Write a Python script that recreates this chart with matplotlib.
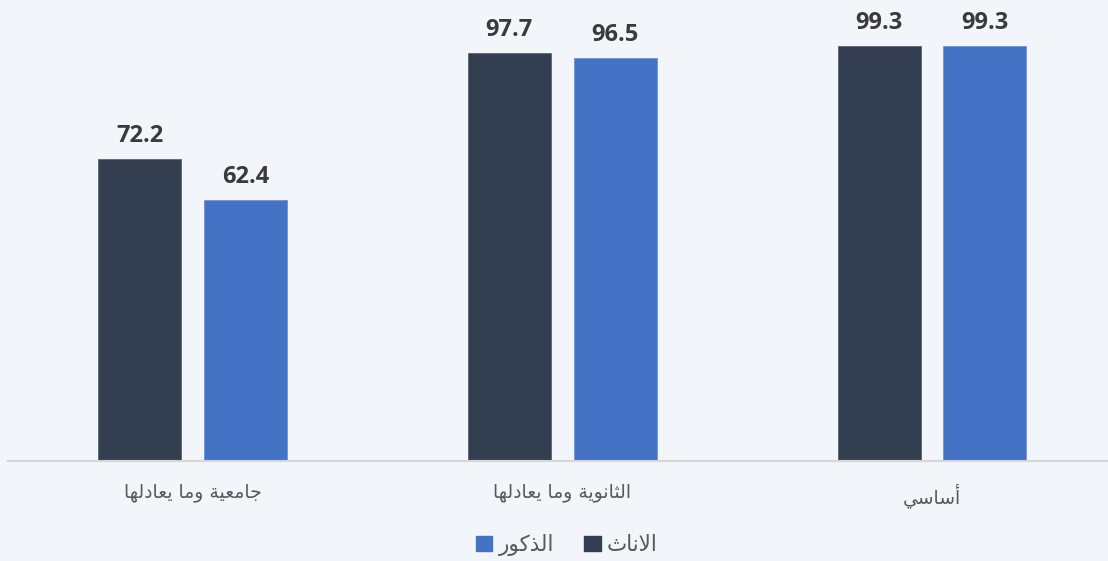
import matplotlib
matplotlib.use("Agg")
import matplotlib.pyplot as plt
import numpy as np
from matplotlib.patches import Patch

# data (right-to-left chart, read as drawn from left to right)
categories = ["جامعية وما يعادلها", "الثانوية وما يعادلها", "أساسي"]
females = [72.2, 97.7, 99.3]
males = [62.4, 96.5, 99.3]
series_names = ["الاناث", "الذكور"]

DARK = "#333f50"
BLUE = "#4472c4"
BG = "#f2f5f9"

# minimal arabic shaping: logical text -> presentation forms in visual order
FORMS = {
    "ا": (0xFE8D, 0xFE8E), "أ": (0xFE83, 0xFE84), "د": (0xFEA9, 0xFEAA),
    "ذ": (0xFEAB, 0xFEAC), "ر": (0xFEAD, 0xFEAE), "و": (0xFEED, 0xFEEE),
    "ة": (0xFE93, 0xFE94),
    "ث": (0xFE99, 0xFE9A, 0xFE9B, 0xFE9C), "ج": (0xFE9D, 0xFE9E, 0xFE9F, 0xFEA0),
    "س": (0xFEB1, 0xFEB2, 0xFEB3, 0xFEB4), "ع": (0xFEC9, 0xFECA, 0xFECB, 0xFECC),
    "ك": (0xFED9, 0xFEDA, 0xFEDB, 0xFEDC), "ل": (0xFEDD, 0xFEDE, 0xFEDF, 0xFEE0),
    "م": (0xFEE1, 0xFEE2, 0xFEE3, 0xFEE4), "ن": (0xFEE5, 0xFEE6, 0xFEE7, 0xFEE8),
    "ه": (0xFEE9, 0xFEEA, 0xFEEB, 0xFEEC), "ي": (0xFEF1, 0xFEF2, 0xFEF3, 0xFEF4),
}
LAM_ALEF = {"ا": (0xFEFB, 0xFEFC), "أ": (0xFEF7, 0xFEF8)}


def shape(text):
    out = []
    for word in text.split(" "):
        letters = []
        i = 0
        while i < len(word):
            if word[i] == "ل" and i + 1 < len(word) and word[i + 1] in LAM_ALEF:
                letters.append(("LA", word[i + 1]))
                i += 2
            else:
                letters.append((word[i], None))
                i += 1
        res = ""
        for k, (ch, extra) in enumerate(letters):
            prev_joins = k > 0 and letters[k - 1][0] != "LA" and len(FORMS[letters[k - 1][0]]) == 4
            if ch == "LA":
                f = LAM_ALEF[extra]
                res += chr(f[1] if prev_joins else f[0])
                continue
            f = FORMS[ch]
            next_exists = k + 1 < len(letters)
            if len(f) == 2:
                res += chr(f[1] if prev_joins else f[0])
            else:
                if prev_joins and next_exists:
                    res += chr(f[3])
                elif prev_joins:
                    res += chr(f[1])
                elif next_exists:
                    res += chr(f[2])
                else:
                    res += chr(f[0])
        out.append(res)
    return " ".join(out)[::-1]


fig = plt.figure(figsize=(11.08, 5.61), dpi=100)
fig.patch.set_facecolor(BG)
ax = fig.add_axes([8 / 1108, 100 / 561, 1100 / 1108, 461 / 561])
ax.set_facecolor(BG)

x = np.arange(len(categories))
w = 0.2245
off = 0.1433
b1 = ax.bar(x - off, females, w, color=DARK, edgecolor="#5a6473", linewidth=0.6)
b2 = ax.bar(x + off, males, w, color=BLUE, edgecolor="#6f93d6", linewidth=0.6)

for bars in (b1, b2):
    for r in bars:
        ax.annotate(f"{r.get_height():.1f}", (r.get_x() + r.get_width() / 2, r.get_height()),
                    xytext=(0, 8), textcoords="offset points", ha="center", va="bottom",
                    fontsize=17, fontweight="bold", color="#3a3a3a", family="Open Sans")

ax.set_xlim(-0.499, 2.476)
ax.set_ylim(0, 110.3)
ax.set_yticks([])
ax.set_xticks(x)
ax.set_xticklabels([shape(c) for c in categories], fontsize=13.5, color="#595959",
                   family="DejaVu Sans")
ax.tick_params(axis="x", length=0, pad=16)
for s in ("top", "left", "right"):
    ax.spines[s].set_visible(False)
ax.spines["bottom"].set_color("#d6d6d6")
ax.spines["bottom"].set_linewidth(1.5)

handles = [Patch(color=BLUE, label=shape(series_names[1])),
           Patch(color=DARK, label=shape(series_names[0]))]
fig.legend(handles=handles, loc="center", bbox_to_anchor=(567 / 1108, 1 - 545 / 561), ncol=2,
           frameon=False, handlelength=0.75, handleheight=0.75,
           handletextpad=0.3, columnspacing=1.4, labelcolor="#595959",
           prop={"family": "DejaVu Sans", "size": 15.5})

fig.savefig("out.png", dpi=100, facecolor=BG)
